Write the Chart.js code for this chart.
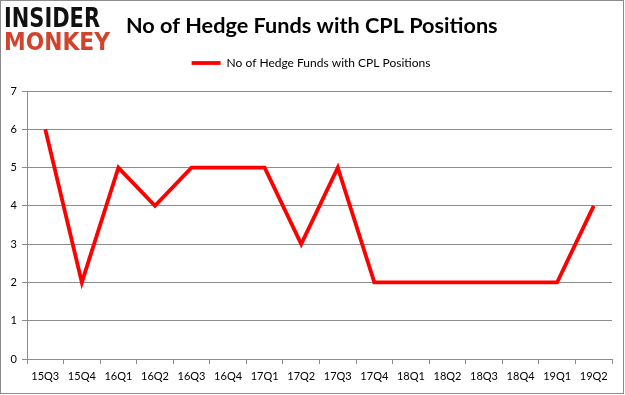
<!DOCTYPE html>
<html><head><meta charset="utf-8">
<script src="https://cdn.jsdelivr.net/npm/chart.js@4/dist/chart.umd.min.js"></script>
<style>html,body{margin:0;padding:0;background:#fff;}#wrap{position:relative;width:625px;height:395px;}</style>
</head><body><div id="wrap"><canvas id="c" width="625" height="395"></canvas></div>
<script>
const categories = ["15Q3","15Q4","16Q1","16Q2","16Q3","16Q4","17Q1","17Q2","17Q3","17Q4","18Q1","18Q2","18Q3","18Q4","19Q1","19Q2"];
const fundCounts = [6,2,5,4,5,5,5,3,5,2,2,2,2,2,2,4];
const yTicks = [0,1,2,3,4,5,6,7];
const seriesName = "No of Hedge Funds with CPL Positions";
const titleText = "No of Hedge Funds with CPL Positions";

function fitFont(ctx, text, family, weight, targetW, maxSize) {
  let size = maxSize;
  ctx.font = weight + ' ' + size + 'px ' + family;
  const w = ctx.measureText(text).width;
  size = Math.min(maxSize, maxSize * targetW / w);
  ctx.font = weight + ' ' + size + 'px ' + family;
  return size;
}

const decor = {
  id: 'decor',
  afterLayout(chart) {
    if (chart.legend) { chart.legend.left += 5; chart.legend.right += 5; }
  },
  afterDraw(chart) {
    const ctx = chart.ctx;
    ctx.save();
    ctx.strokeStyle = '#8c8c8c';
    ctx.lineWidth = 1;
    ctx.strokeRect(0.5, 0.5, 623, 393);
    ctx.textBaseline = 'alphabetic';
    ctx.textAlign = 'left';
    ctx.fillStyle = '#111';
    ctx.font = 'bold 26px "DejaVu Sans"';
    ctx.fillText('INSIDER', 4, 27, 96);
    ctx.fillStyle = '#d0442e';
    ctx.font = 'bold 25px "DejaVu Sans"';
    ctx.fillText('MONKEY', 4, 50, 106);
    ctx.fillStyle = '#000';
    fitFont(ctx, titleText, 'Lato', 'bold', 372, 23);
    ctx.textAlign = 'left';
    ctx.fillText(titleText, 126, 33);
    ctx.restore();
  }
};

new Chart(document.getElementById('c'), {
  type: 'line',
  data: {
    labels: categories,
    datasets: [{
      label: seriesName,
      data: fundCounts,
      borderColor: '#ff0000',
      backgroundColor: '#ff0000',
      borderWidth: 3.8,
      pointRadius: 0,
      tension: 0,
      borderJoinStyle: 'miter'
    }]
  },
  options: {
    responsive: false,
    animation: false,
    layout: { padding: { top: 34, right: 13, left: 0, bottom: 0 } },
    plugins: {
      legend: {
        display: true,
        position: 'top',
        labels: {
          usePointStyle: true,
          pointStyle: 'line',
          pointStyleWidth: 29,
          boxHeight: 4,
          font: { family: 'Lato', size: 12 },
          color: '#000',
          padding: 23
        }
      },
      subtitle: {
        display: true,
        text: ' ',
        position: 'top',
        weight: 500,
        font: { size: 10, lineHeight: 1 },
        padding: 1
      },
      title: { display: false },
      tooltip: { enabled: false }
    },
    scales: {
      x: {
        offset: true,
        grid: { display: true, offset: true, drawOnChartArea: false, drawTicks: true, tickLength: 5, color: '#8c8c8c' },
        border: { display: true, color: '#8c8c8c' },
        ticks: { font: { family: 'Lato', size: 11 }, color: '#000', maxRotation: 0, autoSkip: false, padding: 6 },
        afterFit(s) { s.height = 36; }
      },
      y: {
        min: 0, max: 7,
        afterBuildTicks(s) { s.ticks = yTicks.map(v => ({ value: v })); },
        grid: { color: '#8c8c8c', tickLength: 5, drawTicks: true },
        border: { display: true, color: '#8c8c8c' },
        ticks: { font: { family: 'Lato', size: 11 }, color: '#000', padding: 5 },
        afterFit(s) { s.width = 27; }
      }
    }
  },
  plugins: [decor]
});
</script></body></html>
